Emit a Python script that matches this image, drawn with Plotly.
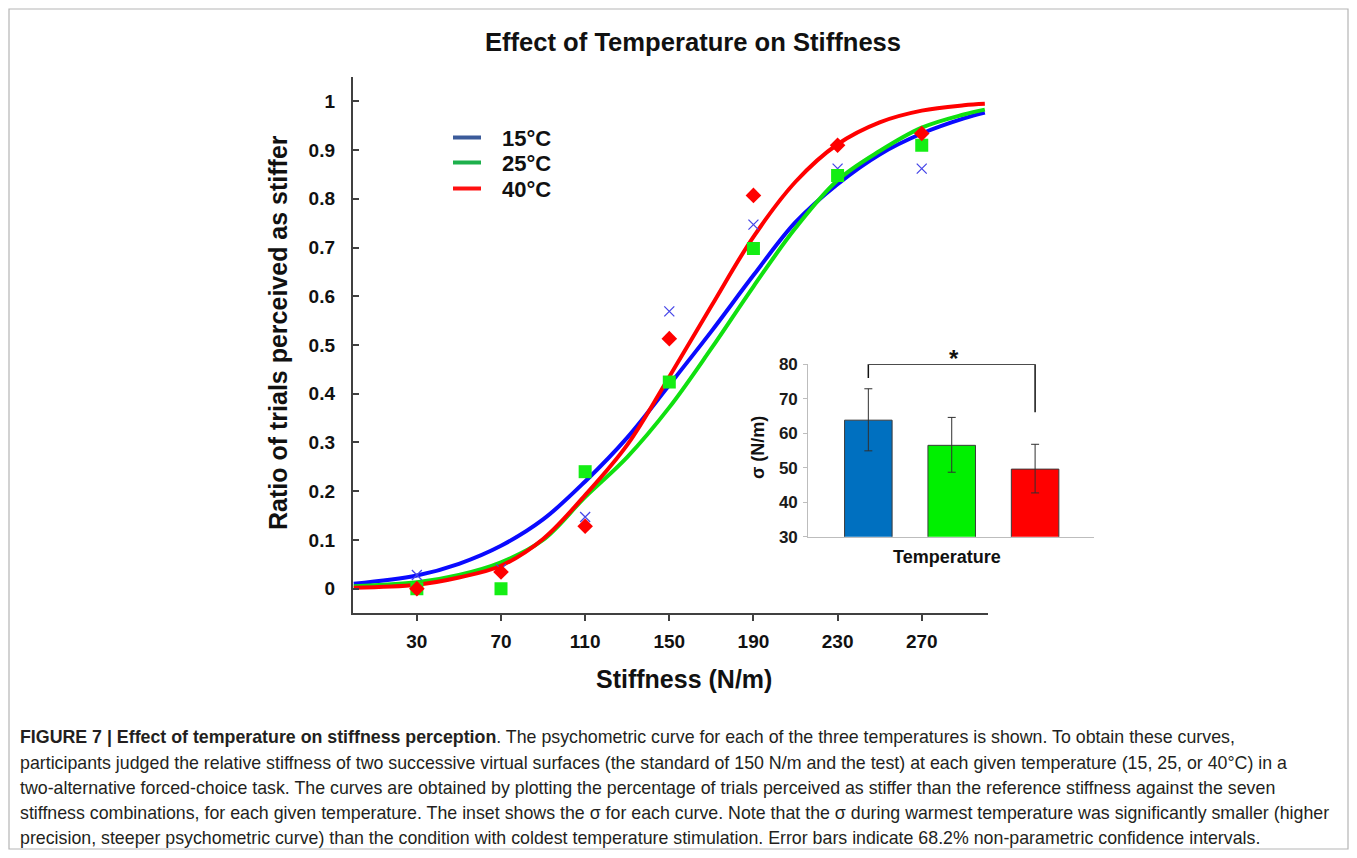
import plotly.graph_objects as go

# ---------------- data ----------------
stiffness = [30, 70, 110, 150, 190, 230, 270]
pts_15 = [0.028, 0.040, 0.147, 0.569, 0.747, 0.862, 0.862]
pts_25 = [0.000, 0.000, 0.240, 0.424, 0.698, 0.848, 0.910]
pts_40 = [0.000, 0.034, 0.128, 0.513, 0.807, 0.910, 0.934]

curve_x = [0, 30, 50, 70, 90, 110, 130, 150, 170, 190, 210, 230, 250, 270, 290, 300]
curve_15 = [0.010, 0.027, 0.051, 0.088, 0.142, 0.220, 0.310, 0.418, 0.528, 0.643, 0.752, 0.830, 0.891, 0.934, 0.965, 0.977]
curve_25 = [0.005, 0.013, 0.028, 0.054, 0.100, 0.188, 0.270, 0.372, 0.493, 0.620, 0.740, 0.838, 0.898, 0.946, 0.973, 0.983]
curve_40 = [0.002, 0.008, 0.023, 0.047, 0.102, 0.192, 0.295, 0.435, 0.580, 0.722, 0.835, 0.912, 0.957, 0.981, 0.992, 0.995]

temps = ["15°C", "25°C", "40°C"]
sigma = [63.8, 56.5, 49.6]
sigma_upper = [72.9, 64.6, 56.8]
sigma_lower = [54.9, 48.7, 42.7]

x_ticks = [30, 70, 110, 150, 190, 230, 270]
y_ticks = [0, 0.1, 0.2, 0.3, 0.4, 0.5, 0.6, 0.7, 0.8, 0.9, 1]
inset_ticks = [30, 40, 50, 60, 70, 80]

# ---------------- styles ----------------
W, H = 1341, 842
FONT = "Liberation Sans, Arial, Helvetica, sans-serif"
curve_colors = ["#0a0aff", "#10e010", "#ff0000"]
legend_colors = ["#3b5b9a", "#1db04c", "#ff1010"]
bar_colors = ["#0070c0", "#00f000", "#ff0000"]


def px(x):
    return (x - 8) / W


def py(y):
    return 1 - (y - 8) / H


fig = go.Figure()

# fitted curves
for ys, col, nm in zip([curve_15, curve_25, curve_40], curve_colors, temps):
    fig.add_trace(go.Scatter(
        x=curve_x, y=ys, mode="lines", name=nm + " fit",
        line=dict(color=col, width=4, shape="spline", smoothing=1.0),
        xaxis="x", yaxis="y", showlegend=False, hoverinfo="skip"))

# data points
fig.add_trace(go.Scatter(
    x=stiffness, y=pts_15, mode="markers", name="15°C",
    marker=dict(symbol="x-thin-open", size=10, color="#4848e8",
                line=dict(color="#4848e8", width=1.3)),
    xaxis="x", yaxis="y", showlegend=False))
fig.add_trace(go.Scatter(
    x=stiffness, y=pts_25, mode="markers", name="25°C",
    marker=dict(symbol="square", size=13, color="#14ee14", line=dict(width=0)),
    xaxis="x", yaxis="y", showlegend=False))
fig.add_trace(go.Scatter(
    x=stiffness, y=pts_40, mode="markers", name="40°C",
    marker=dict(symbol="diamond", size=12, color="#ff0000", line=dict(width=0)),
    xaxis="x", yaxis="y", showlegend=False))

# inset bars
fig.add_trace(go.Bar(
    x=temps, y=sigma, width=0.57,
    marker=dict(color=bar_colors, line=dict(color="#3a3a3a", width=1)),
    error_y=dict(type="data", symmetric=False,
                 array=[u - m for u, m in zip(sigma_upper, sigma)],
                 arrayminus=[m - l for m, l in zip(sigma, sigma_lower)],
                 color="#303030", thickness=1, width=4),
    xaxis="x2", yaxis="y2", showlegend=False))

fig.update_layout(
    width=W, height=H,
    margin=dict(l=0, r=0, t=0, b=0),
    paper_bgcolor="white", plot_bgcolor="white",
    font=dict(family=FONT, color="#111111"),
    showlegend=False,
    title=dict(text="<b>Effect of Temperature on Stiffness</b>",
               x=px(693), y=py(42), xanchor="center", yanchor="middle",
               xref="paper", yref="paper",
               font=dict(size=25.6, color="#111111", family=FONT)),
    xaxis=dict(domain=[px(352.7), px(988)], range=[-0.5, 301.5],
               tickvals=x_ticks, ticks="outside", ticklen=6, tickwidth=1.5,
               tickcolor="#404040", showline=True, linecolor="#404040",
               linewidth=1.8, showgrid=False, zeroline=False,
               tickfont=dict(size=19, family=FONT, color="#111111", weight="bold"),
               ticklabelstandoff=4, automargin=False),
    yaxis=dict(domain=[py(613), py(77)], range=[-0.05, 1.05],
               tickvals=y_ticks, ticks="inside", ticklen=6, tickwidth=1.5,
               tickcolor="#404040", showline=True, linecolor="#404040",
               linewidth=1.8, showgrid=False, zeroline=False,
               tickfont=dict(size=19, family=FONT, color="#111111", weight="bold"),
               ticklabelstandoff=12, automargin=False),
    xaxis2=dict(domain=[px(808.3), px(1094.3)], range=[-0.72, 2.71],
                anchor="y2", showticklabels=False, ticks="",
                showline=True, linecolor="#bdbdbd", linewidth=1.2,
                showgrid=False, zeroline=False, automargin=False),
    yaxis2=dict(domain=[py(536.7), py(364.3)], range=[30, 80],
                anchor="x2", tickvals=inset_ticks, ticks="outside",
                ticklen=4, tickcolor="#bdbdbd", showline=True,
                linecolor="#bdbdbd", linewidth=1.2, showgrid=False,
                zeroline=False,
                tickfont=dict(size=17, family=FONT, color="#1a1a1a", weight="bold"),
                ticklabelstandoff=2, automargin=False),
)

annotations = []
# axis titles
annotations.append(dict(text="<b>Stiffness (N/m)</b>", x=px(684), y=py(679),
                        xref="paper", yref="paper", showarrow=False,
                        xanchor="center", yanchor="middle",
                        font=dict(size=25, family=FONT, color="#111111")))
annotations.append(dict(text="<b>Ratio of trials perceived as stiffer</b>",
                        x=px(278), y=py(333), xref="paper", yref="paper",
                        showarrow=False, textangle=-90,
                        xanchor="center", yanchor="middle",
                        font=dict(size=25, family=FONT, color="#111111")))
# inset titles
annotations.append(dict(text="<b>Temperature</b>", x=px(947), y=py(557),
                        xref="paper", yref="paper", showarrow=False,
                        xanchor="center", yanchor="middle",
                        font=dict(size=18, family=FONT, color="#111111")))
annotations.append(dict(text="<b>σ (N/m)</b>", x=px(758), y=py(448),
                        xref="paper", yref="paper", showarrow=False,
                        textangle=-90, xanchor="center", yanchor="middle",
                        font=dict(size=18, family=FONT, color="#111111")))
annotations.append(dict(text="<b>*</b>", x=px(953.5), y=py(358),
                        xref="paper", yref="paper",
                        showarrow=False, xanchor="center", yanchor="middle",
                        font=dict(size=24, family=FONT, color="#111111")))

# legend (manual)
shapes = []
legend_y = [137.5, 162.5, 188.5]
for t, col, yy in zip(temps, legend_colors, legend_y):
    shapes.append(dict(type="line", xref="paper", yref="paper",
                       x0=px(453), x1=px(481), y0=py(yy), y1=py(yy),
                       line=dict(color=col, width=4)))
    annotations.append(dict(text="<b>" + t + "</b>", x=px(500), y=py(yy + 1),
                            xref="paper", yref="paper", showarrow=False,
                            xanchor="left", yanchor="middle",
                            font=dict(size=22, family=FONT, color="#111111")))

# significance bracket
shapes.append(dict(type="path", xref="x2", yref="y2",
                   path="M 0,76 L 0,80 L 2,80 L 2,66.1",
                   line=dict(color="#111111", width=1.5)))

# figure border
shapes.append(dict(type="rect", xref="paper", yref="paper",
                   x0=px(9), x1=px(1348), y0=py(849), y1=py(9),
                   line=dict(color="#b5b5b5", width=1.2)))

# caption
caption = [
    "<b>FIGURE 7 | Effect of temperature on stiffness perception</b>. The psychometric curve for each of the three temperatures is shown. To obtain these curves,",
    "participants judged the relative stiffness of two successive virtual surfaces (the standard of 150 N/m and the test) at each given temperature (15, 25, or 40°C) in a",
    "two-alternative forced-choice task. The curves are obtained by plotting the percentage of trials perceived as stiffer than the reference stiffness against the seven",
    "stiffness combinations, for each given temperature. The inset shows the σ for each curve. Note that the σ during warmest temperature was significantly smaller (higher",
    "precision, steeper psychometric curve) than the condition with coldest temperature stimulation. Error bars indicate 68.2% non-parametric confidence intervals.",
]
cap_y = [737, 763, 788, 813, 838]
for line, yy in zip(caption, cap_y):
    annotations.append(dict(text=line, x=px(18), y=py(yy), xref="paper",
                            yref="paper", showarrow=False, xanchor="left",
                            yanchor="middle", align="left",
                            font=dict(size=17.8, family=FONT, color="#231f20")))

fig.update_layout(annotations=annotations, shapes=shapes)

fig.write_html("out.html")
